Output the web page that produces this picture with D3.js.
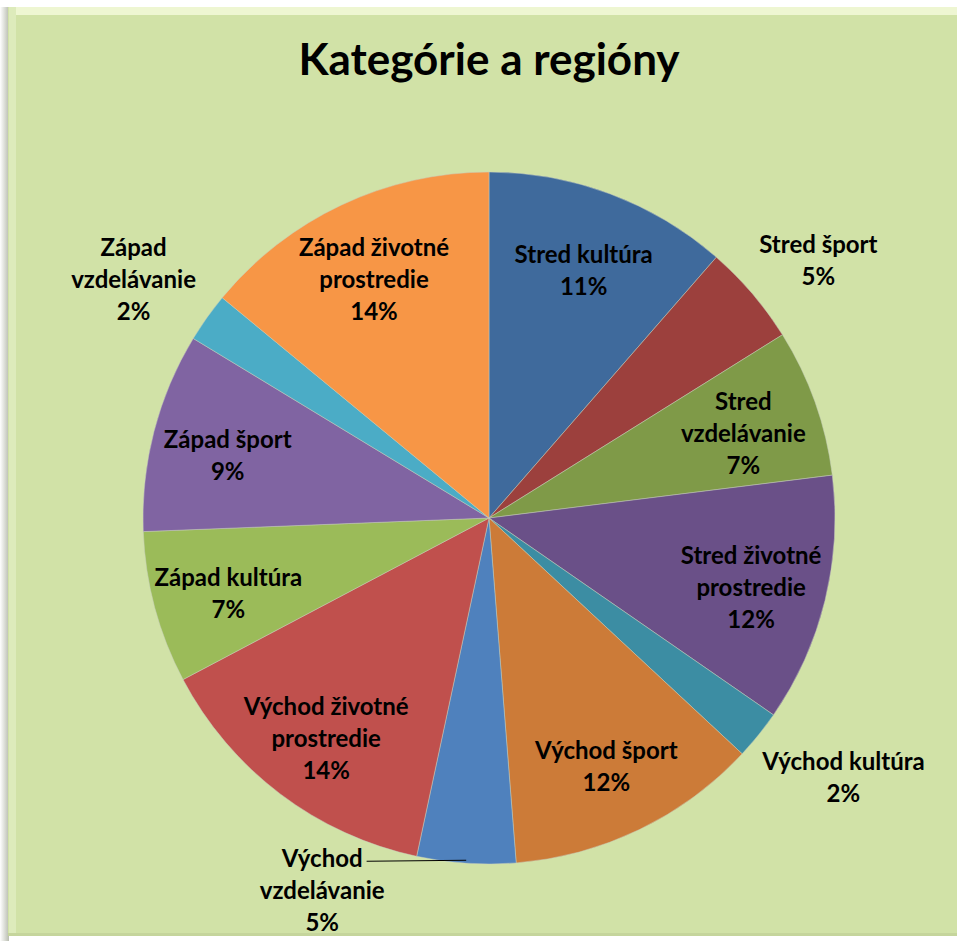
<!DOCTYPE html>
<html>
<head>
<meta charset="utf-8">
<script src="https://cdn.jsdelivr.net/npm/d3@7"></script>
<style>
  html, body { margin: 0; padding: 0; background: #fff; }
  svg text { font-family: Lato, "Open Sans", sans-serif; font-weight: bold; fill: #000; }
</style>
</head>
<body>
<script>
// hodnoty odčítané z grafu (podiel v %)
const categories = [
  'Stred kultúra', 'Stred šport', 'Stred vzdelávanie', 'Stred životné prostredie',
  'Východ kultúra', 'Východ šport', 'Východ vzdelávanie', 'Východ životné prostredie',
  'Západ kultúra', 'Západ šport', 'Západ vzdelávanie', 'Západ životné prostredie'
]
const values = [11.4, 4.7, 6.9, 11.6, 2.3, 11.8, 4.6, 13.9, 7.1, 9.3, 2.3, 14.0]
const colors = [
  '#3F6A9C', '#9C403D', '#7F9A48', '#6A5088',
  '#3C8DA3', '#CC7B38', '#4F81BD', '#C0504D',
  '#9BBB59', '#8064A2', '#4BACC6', '#F79646'
]
const title = 'Kategórie a regióny'

const W = 957, H = 941
const cx = 489, cy = 518, R = 346
const fontSize = 24, lineH = 32

const svg = d3.select('body').append('svg')
  .attr('width', W)
  .attr('height', H)

// pozadie grafu
const defs = svg.append('defs')
const shadow = defs.append('linearGradient').attr('id', 'leftShade')
shadow.append('stop').attr('offset', '0').attr('stop-color', '#ffffff')
shadow.append('stop').attr('offset', '1').attr('stop-color', '#b9bdb0')

svg.append('rect')
  .attr('x', 0).attr('y', 7).attr('width', 9).attr('height', H - 7)
  .attr('fill', 'url(#leftShade)')
svg.append('rect')
  .attr('x', 8).attr('y', 7).attr('width', W - 8).attr('height', 929)
  .attr('fill', '#D1E2A7')
// svetlé okraje (skosenie)
svg.append('rect')
  .attr('x', 9).attr('y', 7).attr('width', W - 9).attr('height', 8)
  .attr('fill', '#EEF6D2')
svg.append('rect')
  .attr('x', 9).attr('y', 7).attr('width', 7).attr('height', 929)
  .attr('fill', '#DDEBBB')
svg.append('rect')
  .attr('x', 8).attr('y', 933).attr('width', W - 8).attr('height', 3)
  .attr('fill', '#C5D59C')

// nadpis
svg.append('text')
  .attr('x', cx)
  .attr('y', 75)
  .attr('text-anchor', 'middle')
  .style('font-size', '44px')
  .text(title)

/* ------------------------------------------------------------------
    KOLÁČ
------------------------------------------------------------------ */
const pie = d3.pie().sort(null).value(d => d)
const arcs = pie(values)
const total = d3.sum(values)

const arc = d3.arc().innerRadius(0).outerRadius(R)

const g = svg.append('g').attr('transform', `translate(${cx},${cy})`)

g.selectAll('path')
  .data(arcs)
  .join('path')
  .attr('d', arc)
  .attr('fill', (d, i) => colors[i])
  .attr('stroke', '#c9cfc0')
  .attr('stroke-opacity', 0.6)
  .attr('stroke-width', 0.8)

/* ------------------------------------------------------------------
    POPISY
------------------------------------------------------------------ */
const inArc = d3.arc().innerRadius(R * 0.78).outerRadius(R * 0.78)
const outArc = d3.arc().innerRadius(R * 1.08).outerRadius(R * 1.08)
const edgeArc = d3.arc().innerRadius(R).outerRadius(R)

// zalamovanie textu ako v Exceli
const measure = svg.append('text').style('font-size', fontSize + 'px')
function textW(s) {
  measure.text(s)
  return measure.node().getComputedTextLength()
}
function wrap(str) {
  const words = str.split(' ')
  const lines = []
  let cur = ''
  words.forEach(w => {
    const t = cur ? cur + ' ' + w : w
    if (cur && textW(t) > 172) {
      lines.push(cur)
      cur = w
    } else {
      cur = t
    }
  })
  lines.push(cur)
  return lines
}

const labels = g.append('g')
arcs.forEach((d, i) => {
  const pct = Math.round(d.value / total * 100) + '%'
  const lines = wrap(categories[i]).concat([pct])
  const outside = (d.endAngle - d.startAngle) < 0.35
  const blockH = lines.length * lineH
  const blockW = d3.max(lines, textW)
  const mid = (d.startAngle + d.endAngle) / 2
  let x, y, leader = null
  if (outside) {
    // box prilepený k bodu mimo koláča
    const p = outArc.centroid(d)
    x = p[0] + blockW / 2 * Math.sin(mid)
    y = p[1] - blockH / 2 * Math.cos(mid)
    // popis by vyšiel mimo graf -> posunúť doľava a pridať čiaru
    if (cy + y + blockH / 2 > 935) {
      const e = edgeArc.centroid(d)
      y = e[1] - 10 + blockH / 2 - lineH / 2
      x = e[0] - 144
      leader = e
    }
  } else {
    [x, y] = inArc.centroid(d)
  }
  const top = y - blockH / 2
  const t = labels.append('text')
    .attr('text-anchor', 'middle')
    .style('font-size', fontSize + 'px')
  lines.forEach((ln, k) => {
    t.append('tspan')
      .attr('x', x)
      .attr('y', top + lineH * k + 30)
      .text(ln)
  })
  if (leader) {
    const w0 = textW(lines[0])
    labels.append('line')
      .attr('x1', x + w0 / 2 + 4).attr('y1', leader[1] - 2)
      .attr('x2', leader[0]).attr('y2', leader[1] - 3)
      .attr('stroke', '#000')
      .attr('stroke-width', 1.2)
  }
})
measure.remove()
</script>
</body>
</html>
